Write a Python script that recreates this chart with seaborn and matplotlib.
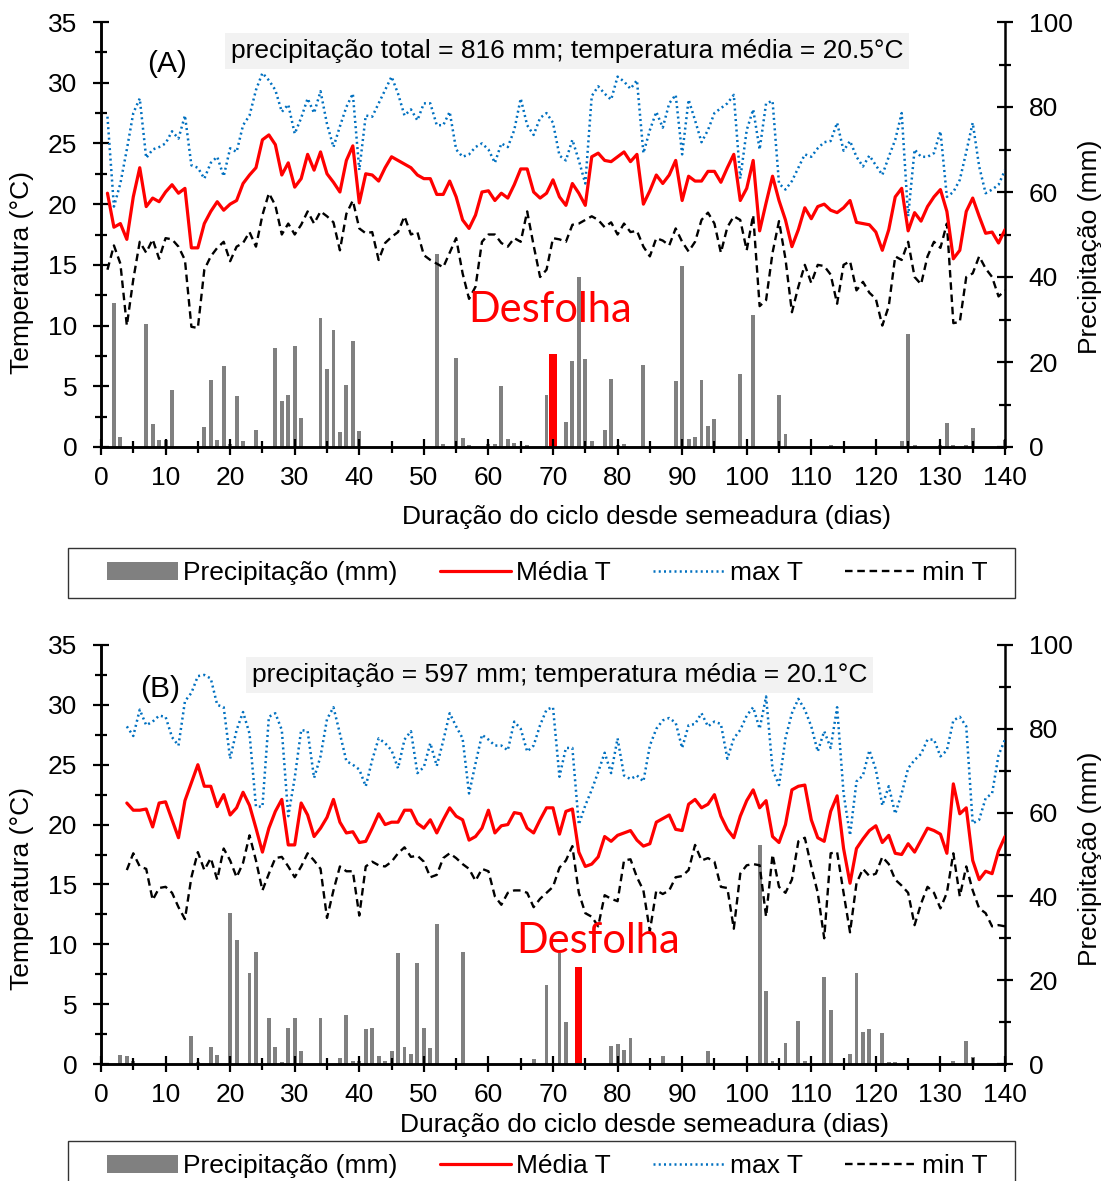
import matplotlib
matplotlib.use("Agg")
import matplotlib.pyplot as plt
import seaborn as sns
import numpy as np
from matplotlib.patches import Patch, Rectangle
from matplotlib.lines import Line2D
from matplotlib.ticker import MultipleLocator

sns.set_theme(style="white")
plt.rcParams['font.family'] = ['Liberation Sans', 'DejaVu Sans']
plt.rcParams['text.color'] = 'black'
plt.rcParams['axes.labelcolor'] = 'black'

# ---------------- Panel A data ----------------
days_A = list(range(1, 141))
tmed_A = [20.9, 18.1, 18.4, 17.1, 20.6, 23.0, 19.8, 20.5, 20.2, 21.0,
          21.6, 20.9, 21.3, 16.4, 16.4, 18.4, 19.4, 20.2, 19.5, 20.0,
          20.3, 21.7, 22.4, 23.0, 25.3, 25.7, 24.9, 22.4, 23.4, 21.4,
          22.1, 24.1, 22.8, 24.3, 22.5, 21.8, 21.0, 23.6, 24.8, 20.1,
          22.5, 22.4, 21.9, 23.0, 23.9, 23.6, 23.3, 23.0, 22.4, 22.1,
          22.1, 20.8, 20.8, 21.9, 20.6, 18.7, 18.0, 19.1, 21.0, 21.1,
          20.3, 20.9, 20.5, 21.6, 22.9, 22.9, 21.0, 20.5, 20.9, 22.0,
          20.6, 19.9, 21.7, 20.9, 19.9, 23.9, 24.2, 23.6, 23.5, 23.9,
          24.3, 23.5, 24.1, 20.0, 21.1, 22.4, 21.7, 22.4, 23.6, 20.3,
          22.3, 21.9, 21.9, 22.7, 22.7, 21.8, 23.0, 24.1, 20.3, 21.3,
          23.6, 17.8, 20.1, 22.3, 20.3, 18.7, 16.5, 17.9, 19.7, 18.8,
          19.8, 20.0, 19.5, 19.3, 19.7, 20.3, 18.5, 18.4, 18.3, 17.7,
          16.2, 17.9, 20.6, 21.3, 17.8, 19.3, 18.6, 19.8, 20.6, 21.2,
          19.4, 15.5, 16.2, 19.4, 20.5, 19.0, 17.6, 17.7, 16.8, 17.9]
tmax_A = [27.2, 19.8, 21.7, 24.5, 27.5, 28.7, 23.8, 24.5, 24.7, 25.0,
          26.0, 25.4, 27.3, 23.2, 23.0, 22.1, 23.4, 23.9, 22.3, 24.6,
          24.3, 26.5, 27.3, 29.4, 30.8, 30.2, 29.4, 27.6, 28.2, 25.8,
          27.1, 28.7, 27.5, 29.3, 26.6, 24.7, 26.4, 28.0, 29.1, 22.8,
          27.3, 27.2, 28.3, 29.4, 30.5, 29.1, 27.3, 27.8, 26.9, 28.3,
          28.3, 26.5, 26.5, 27.6, 24.5, 23.9, 24.1, 24.7, 25.0, 24.5,
          23.4, 25.0, 24.7, 26.1, 28.7, 26.5, 25.7, 27.1, 27.5, 26.7,
          24.0, 23.6, 25.3, 23.6, 21.7, 28.9, 29.7, 29.1, 28.6, 30.5,
          30.1, 29.5, 30.2, 24.2, 26.1, 27.6, 26.3, 28.3, 29.0, 24.1,
          28.6, 26.9, 25.1, 26.1, 27.5, 27.9, 28.3, 29.0, 22.1, 26.1,
          27.8, 24.5, 28.3, 28.5, 21.7, 21.2, 21.9, 23.0, 24.1, 23.9,
          24.6, 25.1, 25.2, 26.7, 24.4, 25.2, 23.9, 23.1, 24.0, 23.2,
          22.4, 23.9, 25.3, 27.5, 19.0, 24.5, 23.9, 23.9, 24.2, 26.0,
          20.6, 21.0, 22.0, 24.3, 26.7, 23.1, 20.9, 21.2, 21.6, 22.8]
tmin_A = [14.6, 16.6, 15.1, 10.0, 13.8, 16.9, 16.0, 17.1, 15.5, 17.2,
          17.1, 16.5, 15.4, 9.9, 9.8, 14.6, 15.7, 16.4, 16.9, 15.3,
          16.5, 16.8, 17.7, 16.5, 19.1, 20.9, 19.9, 17.5, 18.4, 17.5,
          18.3, 19.4, 18.4, 19.4, 19.0, 18.5, 16.2, 19.2, 20.3, 18.0,
          17.6, 17.7, 15.4, 16.8, 17.3, 17.7, 19.0, 17.5, 17.7, 15.8,
          15.4, 15.1, 14.8, 16.0, 17.2, 14.3, 12.2, 13.2, 16.9, 17.5,
          17.5, 16.8, 16.5, 17.2, 16.9, 19.4, 16.6, 14.0, 14.6, 17.2,
          17.1, 16.9, 18.3, 18.4, 18.7, 19.0, 18.7, 18.1, 18.5, 17.5,
          18.4, 17.7, 17.8, 16.5, 15.7, 17.2, 17.0, 16.6, 18.0, 16.9,
          16.1, 16.9, 18.7, 19.3, 18.4, 16.0, 18.1, 19.0, 18.7, 16.2,
          19.1, 11.6, 12.1, 16.0, 18.6, 15.5, 11.1, 13.2, 15.0, 13.5,
          15.0, 14.9, 14.2, 11.8, 15.0, 15.3, 12.9, 13.6, 12.7, 12.2,
          10.0, 11.6, 15.7, 15.4, 16.9, 14.0, 13.4, 15.7, 16.9, 16.4,
          18.4, 10.2, 10.3, 14.0, 14.3, 15.7, 14.7, 14.0, 12.4, 12.9]
rain_days_A = [2, 3, 7, 8, 9, 10, 11, 16, 17, 18, 19, 20, 21, 22, 24, 27, 28, 29, 30, 31,
               34, 35, 36, 37, 38, 39, 40, 52, 53, 55, 56, 57, 60, 61, 62, 63, 64, 66, 69,
               72, 73, 74, 75, 76, 78, 79, 80, 81, 84, 89, 90, 91, 92, 93, 94, 95, 99, 101,
               105, 106, 113, 124, 125, 126, 130, 131, 132, 134, 135, 140]
rain_mm_A = [33.9, 2.4, 29.0, 5.5, 1.7, 1.7, 13.3, 4.7, 15.7, 1.7, 19.1, 0.8, 12.1, 1.4, 3.9,
             23.2, 10.8, 12.3, 23.8, 6.9, 30.4, 18.4, 27.6, 3.5, 14.7, 24.9, 3.7, 45.3, 0.6,
             20.9, 2.2, 0.4, 0.8, 0.6, 14.4, 2.0, 1.0, 0.5, 12.2, 6.0, 20.2, 40.0, 20.8, 1.3,
             3.9, 16.1, 0.4, 0.8, 19.2, 15.5, 42.7, 1.8, 2.4, 15.7, 4.9, 6.5, 17.1, 31.0,
             12.2, 3.1, 0.4, 1.4, 26.7, 0.4, 0.4, 5.6, 0.4, 0.5, 4.5, 1.6]
desfolha_day_A = 70
desfolha_mark_A = 22.0
info_A = "precipitação total = 816 mm; temperatura média = 20.5°C"

# ---------------- Panel B data ----------------
days_B = list(range(4, 141))
tmed_B = [21.8, 21.2, 21.2, 21.3, 19.8, 21.8, 21.9, 20.4, 18.9, 22.0,
          23.5, 25.0, 23.2, 23.2, 21.5, 22.5, 20.8, 21.4, 22.7, 21.6,
          19.7, 17.7, 19.7, 21.1, 22.1, 18.3, 18.3, 21.8, 20.8, 19.0,
          19.7, 20.6, 22.1, 20.2, 19.3, 19.4, 18.5, 18.6, 19.7, 20.9,
          20.0, 20.2, 20.2, 21.2, 21.2, 20.1, 19.7, 20.4, 19.3, 20.4,
          21.4, 20.7, 20.4, 18.7, 19.0, 19.7, 21.2, 19.3, 19.9, 20.0,
          21.0, 20.9, 19.7, 19.3, 20.4, 21.4, 21.4, 19.2, 21.1, 21.3,
          17.7, 16.5, 16.7, 17.3, 19.0, 18.6, 19.1, 19.3, 19.5, 18.7,
          18.2, 18.4, 20.2, 20.5, 20.8, 19.6, 19.5, 21.7, 22.1, 21.4,
          21.7, 22.5, 20.7, 19.6, 18.9, 20.7, 22.0, 22.9, 21.4, 22.0,
          19.0, 18.5, 20.0, 22.9, 23.2, 23.3, 20.4, 18.9, 18.6, 21.1,
          22.4, 18.0, 15.1, 18.0, 18.8, 19.5, 19.9, 18.5, 19.1, 17.6,
          17.5, 18.4, 17.7, 18.7, 19.7, 19.5, 19.2, 17.6, 23.4, 20.9,
          21.4, 17.0, 15.4, 16.1, 15.9, 17.8, 19.0]
tmax_B = [28.2, 27.4, 29.6, 28.3, 28.6, 29.1, 29.0, 27.3, 26.6, 30.3,
          31.0, 32.4, 32.5, 32.2, 30.0, 29.8, 25.5, 27.9, 29.4, 27.6,
          21.5, 21.5, 29.0, 29.3, 27.9, 20.7, 23.9, 27.9, 27.8, 23.9,
          25.7, 28.8, 29.8, 27.6, 25.3, 25.0, 24.6, 23.2, 25.4, 27.2,
          26.8, 26.2, 24.7, 27.1, 27.8, 24.3, 24.8, 26.8, 24.9, 27.0,
          29.3, 28.2, 27.2, 22.6, 25.1, 27.5, 27.1, 26.6, 26.6, 26.2,
          28.6, 28.0, 26.1, 26.6, 28.3, 29.6, 29.8, 24.0, 26.4, 26.4,
          20.0, 21.6, 22.9, 24.4, 26.0, 24.3, 27.2, 24.1, 23.8, 24.1,
          23.6, 26.6, 28.0, 28.7, 28.9, 28.5, 26.4, 28.3, 28.4, 29.3,
          28.2, 28.6, 28.4, 25.5, 27.2, 27.9, 29.1, 29.8, 28.0, 30.7,
          24.6, 23.3, 27.2, 29.3, 30.5, 29.6, 28.2, 26.1, 27.8, 26.4,
          29.8, 22.6, 19.1, 23.6, 24.1, 26.2, 24.6, 21.6, 23.2, 20.9,
          22.6, 24.7, 25.4, 25.9, 27.1, 27.1, 25.7, 26.2, 28.7, 29.0,
          28.2, 20.1, 20.4, 22.2, 22.6, 25.8, 27.1]
tmin_B = [16.2, 17.6, 16.5, 16.3, 13.7, 14.7, 14.8, 14.3, 13.1, 12.1,
          15.6, 17.7, 16.2, 17.2, 15.4, 18.0, 17.0, 15.6, 16.8, 19.1,
          17.0, 14.5, 15.9, 17.2, 17.3, 16.5, 15.6, 16.5, 17.6, 17.0,
          16.3, 12.2, 14.5, 16.5, 16.1, 16.1, 12.4, 16.5, 16.9, 16.6,
          16.5, 16.9, 17.6, 18.1, 17.3, 17.4, 16.9, 15.6, 15.8, 17.2,
          17.6, 17.2, 16.7, 16.3, 15.3, 16.3, 16.1, 14.0, 13.3, 14.3,
          14.5, 14.5, 14.3, 13.1, 13.8, 14.3, 14.8, 16.4, 17.0, 18.2,
          14.3, 12.6, 12.3, 11.5, 14.1, 13.8, 13.6, 17.0, 17.1, 15.6,
          14.5, 11.1, 14.5, 14.2, 14.5, 15.6, 15.7, 16.2, 18.3, 17.0,
          17.2, 16.9, 14.8, 14.7, 11.3, 15.9, 16.6, 16.7, 16.6, 12.3,
          17.5, 14.8, 14.3, 15.4, 18.6, 18.9, 16.5, 14.3, 10.5, 17.6,
          17.7, 14.3, 11.0, 15.1, 16.3, 15.7, 15.9, 17.3, 16.7, 15.4,
          14.9, 14.3, 11.6, 13.4, 14.8, 14.3, 13.0, 14.3, 17.6, 14.0,
          16.5, 14.5, 13.0, 12.6, 11.5, 11.6, 11.5]
rain_days_B = [3, 4, 5, 14, 15, 17, 18, 20, 21, 23, 24, 26, 27, 28, 29, 30, 31, 34, 37, 38,
               39, 40, 41, 42, 43, 44, 45, 46, 47, 48, 49, 50, 51, 52, 56, 67, 69, 71, 72,
               79, 80, 81, 82, 87, 94, 102, 103, 104, 106, 107, 108, 109, 112, 113, 116,
               117, 118, 119, 120, 121, 122, 123, 132, 134, 135]
rain_mm_B = [2.1, 1.9, 0.6, 6.8, 0.4, 4.1, 2.1, 36.1, 29.6, 21.6, 26.7, 10.9, 4.1, 0.4, 8.5,
             10.9, 3.2, 10.9, 1.4, 11.7, 0.8, 0.6, 8.3, 8.7, 2.0, 0.6, 3.1, 26.4, 4.1, 2.3,
             24.2, 8.7, 3.7, 33.3, 26.7, 1.1, 18.9, 26.4, 10.1, 4.3, 4.8, 3.3, 6.1, 1.9, 3.2,
             52.3, 17.4, 0.6, 4.9, 0.3, 10.3, 0.6, 20.7, 13.0, 2.5, 21.6, 7.7, 8.3, 0.3, 7.3,
             0.4, 0.4, 0.6, 5.6, 1.6]
desfolha_day_B = 74
desfolha_mark_B = 23.2
info_B = "precipitação = 597 mm; temperatura média = 20.1°C"

# ---------------- styling ----------------
FS = 19
RED = "#FF0000"
BLUE = "#0070C0"
GRAY = "#808080"
LW_MED = 2.3
LW_MAX = 1.8
LW_MIN = 1.7
DOT = (0, (0.8, 1.3))
DASH = (0, (3.2, 2.0))

W, H = 1106, 1181
fig = plt.figure(figsize=(W / 100, H / 100), dpi=100)


def panel(rect, days, tmed, tmax, tmin, rdays, rmm, dday, dmark, info,
          info_xy, tag, tag_xy, desf_xy, ylab_y, ylab2_y, xlab_xy):
    ax = fig.add_axes(rect)
    ax2 = ax.twinx()
    ax2.bar(rdays, rmm, width=0.6, color=GRAY, linewidth=0)
    ax2.bar([dday], [dmark], width=1.1, color=RED, linewidth=0)

    sns.lineplot(x=days, y=tmax, ax=ax, color=BLUE, linewidth=LW_MAX, linestyle=DOT)
    sns.lineplot(x=days, y=tmin, ax=ax, color="black", linewidth=LW_MIN, linestyle=DASH)
    sns.lineplot(x=days, y=tmed, ax=ax, color=RED, linewidth=LW_MED)

    ax.set_zorder(ax2.get_zorder() + 1)
    ax.patch.set_visible(False)

    ax.set_xlim(0, 140)
    ax.set_ylim(0, 35)
    ax2.set_ylim(0, 100)
    ax.xaxis.set_major_locator(MultipleLocator(10))
    ax.xaxis.set_minor_locator(MultipleLocator(5))
    ax.yaxis.set_major_locator(MultipleLocator(5))
    ax.yaxis.set_minor_locator(MultipleLocator(2.5))
    ax2.yaxis.set_major_locator(MultipleLocator(20))
    ax2.yaxis.set_minor_locator(MultipleLocator(10))

    for a in (ax, ax2):
        a.spines["top"].set_visible(False)
        for s in ("left", "right", "bottom"):
            a.spines[s].set_linewidth(1.8)
            a.spines[s].set_color("black")
        a.grid(False)
    ax.spines["right"].set_visible(False)

    ax.tick_params(axis="both", which="major", direction="inout", length=11,
                   width=1.6, color="black", labelsize=FS, labelcolor="black")
    ax.tick_params(axis="both", which="minor", direction="inout", length=9,
                   width=1.6, color="black")
    ax.tick_params(axis="y", which="both", left=True, right=False, pad=11.5)
    ax.tick_params(axis="x", which="both", bottom=True, top=False, pad=8)
    ax2.tick_params(axis="y", which="major", direction="inout", length=11,
                    width=1.6, color="black", labelsize=FS, labelcolor="black",
                    right=True, left=False, pad=11.5)
    ax2.tick_params(axis="y", which="minor", direction="inout", length=9,
                    width=1.6, color="black", right=True, left=False)

    ax.set_xlabel("Duração do ciclo desde semeadura (dias)", fontsize=FS)
    ax.xaxis.set_label_coords(*xlab_xy)
    ax.xaxis.label.set_va("center")
    ax.set_ylabel("Temperatura (°C)", fontsize=FS)
    ax.yaxis.set_label_coords(-0.087, ylab_y)
    ax.yaxis.label.set_va("center")
    ax2.set_ylabel("Precipitação (mm)", fontsize=FS, rotation=90)
    ax2.yaxis.set_label_coords(1.094, ylab2_y)
    ax2.yaxis.label.set_va("center")

    ax.text(info_xy[0], info_xy[1], info, transform=ax.transAxes, ha="center",
            va="center", fontsize=FS, color="black",
            bbox=dict(facecolor="#F2F2F2", edgecolor="none", boxstyle="square,pad=0.22"))
    ax.text(tag_xy[0], tag_xy[1], tag, transform=ax.transAxes, ha="center",
            va="center", fontsize=21.5, color="black")
    ax.text(desf_xy[0], desf_xy[1], "Desfolha", transform=ax.transAxes,
            ha="center", va="baseline", fontsize=30, color=RED,
            family=["Lato", "DejaVu Sans"])
    return ax, ax2


def px_rect(l, t, r, b):
    return [l / W, 1 - b / H, (r - l) / W, (b - t) / H]


panel(px_rect(101, 22, 1005, 447), days_A, tmed_A, tmax_A, tmin_A, rain_days_A,
      rain_mm_A, desfolha_day_A, desfolha_mark_A, info_A, (0.5155, 0.932), "(A)",
      (0.073, 0.901), (0.497, 0.294), 0.41, 0.47, (0.603, -0.165))
panel(px_rect(101, 645, 1005, 1064), days_B, tmed_B, tmax_B, tmin_B, rain_days_B,
      rain_mm_B, desfolha_day_B, desfolha_mark_B, info_B, (0.507, 0.928), "(B)",
      (0.065, 0.895), (0.550, 0.265), 0.42, 0.49, (0.601, -0.1456))

handles = [Patch(facecolor=GRAY, edgecolor="none"),
           Line2D([], [], color=RED, linewidth=LW_MED),
           Line2D([], [], color=BLUE, linewidth=LW_MAX, linestyle=DOT),
           Line2D([], [], color="black", linewidth=LW_MIN, linestyle=DASH)]
labels = ["Precipitação (mm)", "Média T", "max T", "min T"]

# legend frames (px: left, top) and text centre
for top in (548, 1141):
    box_h = 50
    fig.add_artist(Rectangle((68 / W, 1 - (top + box_h) / H), 947 / W, box_h / H,
                             transform=fig.transFigure, fill=False,
                             edgecolor="#333333", linewidth=1.0))
    leg = fig.legend(handles, labels, loc="center",
                     bbox_to_anchor=(547 / W, 1 - (top + 25) / H),
                     ncol=4, frameon=False, fontsize=FS, handlelength=2.7,
                     handleheight=0.65, handletextpad=0.2, columnspacing=1.6,
                     borderpad=0, borderaxespad=0)
    for t in leg.get_texts():
        t.set_color("black")

fig.savefig("out.png", dpi=100, facecolor="white")
